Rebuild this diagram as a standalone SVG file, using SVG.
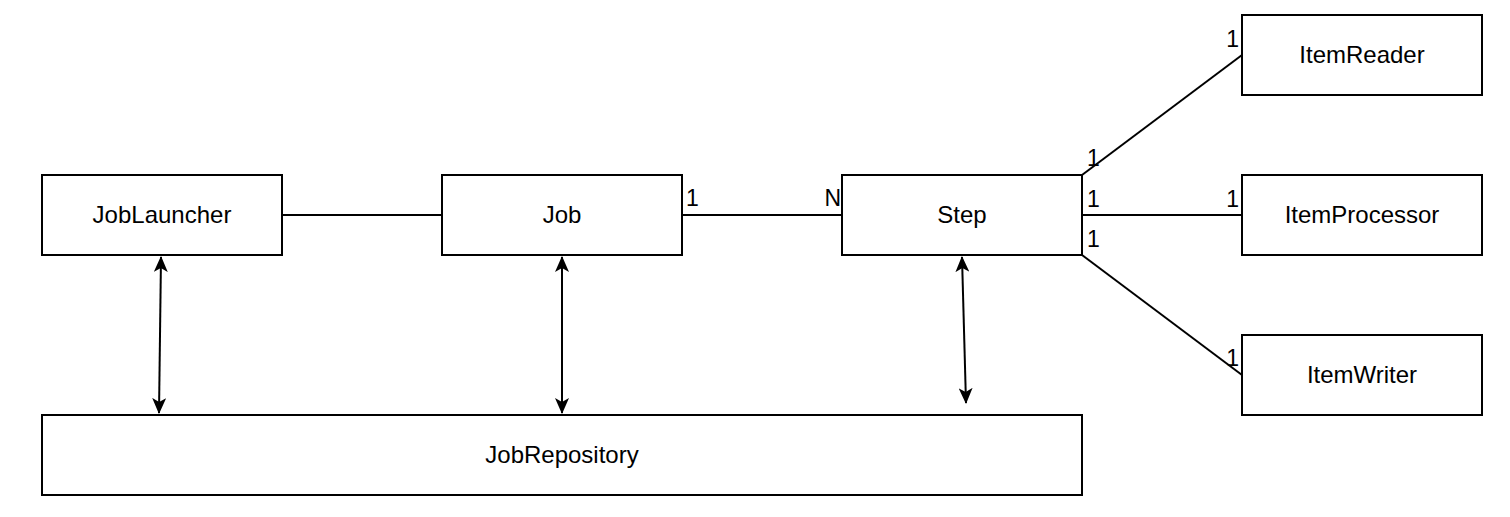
<svg xmlns="http://www.w3.org/2000/svg" width="1510" height="517" viewBox="0 0 1510 517">
<style>
.box{fill:#fff;stroke:#000;stroke-width:2}
.t{font-family:"Liberation Sans",Arial,sans-serif;font-size:24px;fill:#000;text-anchor:middle}
.l{font-family:"Liberation Sans",Arial,sans-serif;font-size:23px;fill:#000}
.c{fill:none;stroke:#000;stroke-width:2}
</style>
<defs>
<marker id="ah" viewBox="0 0 16 14" refX="15" refY="7" markerWidth="16" markerHeight="14" markerUnits="userSpaceOnUse" orient="auto-start-reverse">
<path d="M0,0 L16,7 L0,14 L4,7 Z" fill="#000"/>
</marker>
</defs>
<rect width="1510" height="517" fill="#fff"/>
<g id="connectors">
<line class="c" x1="282" y1="215" x2="442" y2="215"/>
<line class="c" x1="682" y1="215" x2="842" y2="215"/>
<line class="c" x1="1082" y1="175" x2="1242" y2="55"/>
<line class="c" x1="1082" y1="215" x2="1242" y2="215"/>
<line class="c" x1="1082" y1="255" x2="1242" y2="375"/>
<path class="c" d="M161,257 L159,413" marker-start="url(#ah)" marker-end="url(#ah)"/>
<path class="c" d="M562,257 L562,413" marker-start="url(#ah)" marker-end="url(#ah)"/>
<path class="c" d="M962,257 L966,403" marker-start="url(#ah)" marker-end="url(#ah)"/>
<text class="l" x="686" y="206">1</text>
<text class="l" x="841" y="206" text-anchor="end">N</text>
<text class="l" x="1087" y="166">1</text>
<text class="l" x="1239" y="47" text-anchor="end">1</text>
<text class="l" x="1087" y="207">1</text>
<text class="l" x="1239" y="207" text-anchor="end">1</text>
<text class="l" x="1087" y="247">1</text>
<text class="l" x="1239" y="366" text-anchor="end">1</text>
</g>
<g id="JobLauncher"><rect class="box" x="42" y="175" width="240" height="80"/><text class="t" x="162" y="223">JobLauncher</text></g>
<g id="Job"><rect class="box" x="442" y="175" width="240" height="80"/><text class="t" x="562" y="223">Job</text></g>
<g id="Step"><rect class="box" x="842" y="175" width="240" height="80"/><text class="t" x="962" y="223">Step</text></g>
<g id="ItemReader"><rect class="box" x="1242" y="15" width="240" height="80"/><text class="t" x="1362" y="63">ItemReader</text></g>
<g id="ItemProcessor"><rect class="box" x="1242" y="175" width="240" height="80"/><text class="t" x="1362" y="223">ItemProcessor</text></g>
<g id="ItemWriter"><rect class="box" x="1242" y="335" width="240" height="80"/><text class="t" x="1362" y="383">ItemWriter</text></g>
<g id="JobRepository"><rect class="box" x="42" y="415" width="1040" height="80"/><text class="t" x="562" y="463">JobRepository</text></g>
</svg>
